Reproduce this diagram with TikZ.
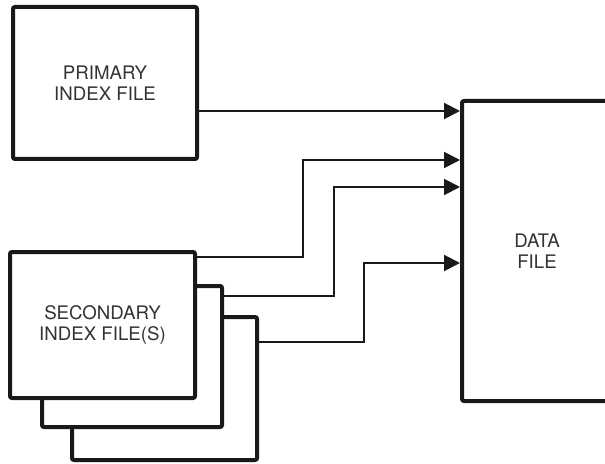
\documentclass[tikz,border=0pt]{standalone}
\usepackage{fontspec}
\setmainfont{TeX Gyre Heros}
\usetikzlibrary{arrows.meta}
\begin{document}
\begin{tikzpicture}[x=0.75pt,y=-0.75pt,
  filebox/.style={draw=black!90, line width=3pt, fill=white, rounded corners=1.5pt,
    inner sep=0pt, align=center, text=black!80,
    font=\fontsize{14pt}{16pt}\selectfont},
  conn/.style={draw=black!90, line width=1.5pt,
    -{Triangle[length=12pt,width=12pt]}}]
\useasboundingbox (0,0) rectangle (605,463);
\clip (0,0) rectangle (605,463);
% data file
\node[filebox, minimum width=112.5pt, minimum height=225pt] (data) at (537,251) {DATA\\FILE};
% primary
\node[filebox, minimum width=138pt, minimum height=114pt] (prim) at (105,83) {PRIMARY\\INDEX FILE};
% secondary stack
\node[filebox, minimum width=138.75pt, minimum height=107.25pt] (sec3) at (164.5,388.5) {};
\node[filebox, minimum width=135pt, minimum height=105.75pt] (sec2) at (132,356.5) {};
\node[filebox, minimum width=138.75pt, minimum height=109.5pt] (sec1) at (102.5,325) {SECONDARY\\INDEX FILE(S)};
% connectors
\draw[conn] (prim.east |- 0,111) -- (data.west |- 0,111);
\draw[conn] (sec1.east |- 0,257) -| (303,160) -- (data.west |- 0,160);
\draw[conn] (sec2.east |- 0,296) -| (334,187) -- (data.west |- 0,187);
\draw[conn] (sec3.east |- 0,342) -| (364,263) -- (data.west |- 0,263);
\end{tikzpicture}
\end{document}
